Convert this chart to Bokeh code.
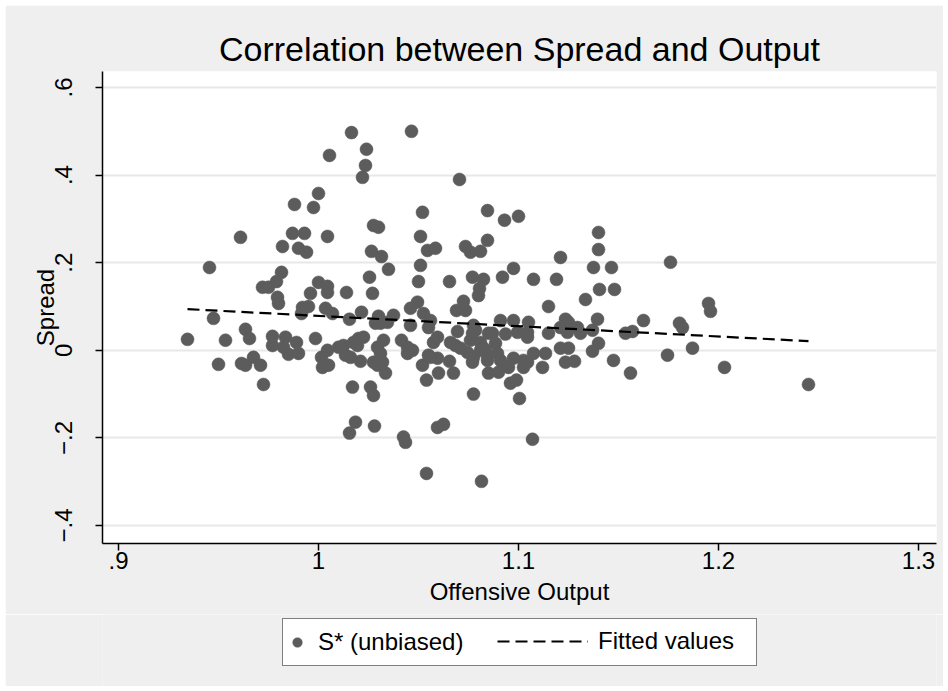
from bokeh.plotting import figure
from bokeh.layouts import column
from bokeh.models import FixedTicker, Legend, LegendItem, ColumnDataSource, Range1d
from bokeh.embed import file_html
from bokeh.resources import INLINE

# ---- data ----
output_x = [
    1.0165, 1.0465, 1.024, 1.0055, 1.0235, 1.022, 1.0705, 1.000, 0.988, 0.9975,
    1.052, 1.0845, 1.0275, 1.030, 0.961, 0.987, 0.993, 1.0045, 1.051, 1.0845,
    0.982, 0.990, 0.994, 1.0265, 1.0315, 1.0545, 1.0585, 1.0735, 1.076, 1.081,
    0.9455, 1.051, 1.035, 0.9815, 0.979, 0.972, 0.975, 1.000, 1.0045, 1.0045,
    0.996, 1.014, 1.0255, 1.027, 1.050, 1.0655, 1.077, 1.0825, 1.0805, 1.080,
    1.093, 1.100, 1.140, 1.140, 1.121, 1.176, 1.1375, 1.1465, 1.0975, 1.092,
    1.1075, 1.119, 1.1405, 1.148, 1.1335, 1.0495, 1.0725, 0.9795, 0.980, 0.9475,
    0.9345, 0.9535, 0.950, 0.9635, 0.9655, 0.9615, 0.9635, 0.9675, 0.971, 0.9725,
    0.977, 0.977, 0.9835, 0.9825, 0.985, 0.989, 0.990, 0.992, 0.995, 0.9915,
    0.9985, 1.0035, 1.007, 1.0155, 1.0215, 1.0015, 1.0045, 1.002, 1.005, 1.010,
    1.0125, 1.0135, 1.016, 1.0175, 1.020, 1.0225, 1.0195, 1.021, 1.017, 1.026,
    1.0275, 1.0185, 1.0155, 1.028, 1.030, 1.031, 1.0285, 1.0345, 1.0375, 1.0295,
    1.0325, 1.031, 1.0295, 1.0275, 1.032, 1.0335, 1.0415, 1.0445, 1.047, 1.0445,
    1.046, 1.0525, 1.056, 1.055, 1.046, 1.052, 1.055, 1.0595, 1.054, 1.060,
    1.0575, 1.0595, 1.0425, 1.0435, 1.0595, 1.0625, 1.054, 1.0815, 1.069, 1.0735,
    1.0695, 1.066, 1.0685, 1.071, 1.0745, 1.0775, 1.077, 1.081, 1.0835, 1.0845,
    1.0775, 1.077, 1.0655, 1.0675, 1.0775, 1.085, 1.085, 1.115, 1.195, 1.196,
    1.091, 1.0975, 1.105, 1.087, 1.0935, 1.0995, 1.1045, 1.1045, 1.115, 1.1235,
    1.125, 1.121, 1.1245, 1.1295, 1.131, 1.137, 1.1395, 1.1625, 1.1535, 1.157,
    1.1805, 1.182, 1.140, 1.137, 1.0825, 1.0845, 1.0885, 1.0895, 1.091, 1.0925,
    1.1075, 1.1135, 1.112, 1.0975, 1.1025, 1.1025, 1.095, 1.090, 1.121, 1.125,
    1.1235, 1.128, 1.1475, 1.156, 1.1745, 1.187, 1.203, 1.245, 1.096, 1.099,
    1.1005, 1.107, 1.056, 1.0785, 1.076, 1.081, 1.1045,
]
spread_y = [
    0.497, 0.500, 0.459, 0.445, 0.422, 0.395, 0.390, 0.358, 0.333, 0.326,
    0.315, 0.319, 0.285, 0.281, 0.258, 0.267, 0.267, 0.260, 0.260, 0.251,
    0.237, 0.233, 0.224, 0.226, 0.214, 0.228, 0.233, 0.237, 0.224, 0.226,
    0.189, 0.194, 0.185, 0.178, 0.157, 0.144, 0.144, 0.155, 0.146, 0.132,
    0.130, 0.132, 0.167, 0.130, 0.157, 0.157, 0.167, 0.162, 0.141, 0.125,
    0.297, 0.306, 0.269, 0.230, 0.212, 0.201, 0.189, 0.189, 0.187, 0.167,
    0.162, 0.162, 0.139, 0.139, 0.116, 0.110, 0.112, 0.121, 0.107, 0.073,
    0.025, 0.023, -0.032, 0.048, 0.027, -0.030, -0.034, -0.016, -0.034, -0.078,
    0.032, 0.011, 0.030, 0.007, -0.009, 0.018, -0.007, 0.098, 0.100, 0.084,
    0.027, 0.096, 0.084, 0.071, 0.087, -0.016, 0.000, -0.039, -0.034, 0.007,
    0.011, -0.011, -0.016, 0.018, 0.027, 0.030, 0.011, -0.025, -0.084, -0.084,
    -0.103, -0.164, -0.189, -0.173, 0.078, 0.062, 0.062, 0.064, 0.080, 0.007,
    0.023, -0.007, -0.034, -0.027, -0.027, -0.052, 0.023, 0.007, 0.000, -0.007,
    0.096, 0.084, 0.068, 0.052, 0.057, -0.034, -0.011, -0.018, -0.068, -0.052,
    0.018, 0.030, -0.198, -0.210, -0.176, -0.169, -0.281, -0.299, 0.091, 0.091,
    0.043, 0.018, 0.011, 0.005, -0.005, -0.016, -0.027, 0.018, 0.000, -0.023,
    0.057, 0.039, -0.025, -0.052, -0.100, -0.052, 0.039, 0.100, 0.107, 0.089,
    0.068, 0.068, 0.064, 0.039, 0.037, 0.041, 0.041, 0.030, 0.039, 0.071,
    0.064, 0.052, 0.041, 0.052, 0.039, 0.046, 0.071, 0.068, 0.039, 0.043,
    0.062, 0.052, 0.016, -0.002, 0.005, -0.011, 0.016, -0.007, -0.023, -0.034,
    -0.007, -0.007, -0.039, -0.018, -0.023, -0.039, -0.039, -0.050, 0.005, 0.005,
    -0.027, -0.025, -0.023, -0.052, -0.011, 0.005, -0.039, -0.078, -0.075, -0.068,
    -0.110, -0.203, -0.016, 0.046, 0.023, 0.000, -0.027,
]
fit_x = [0.9345, 1.245]
fit_y = [0.094, 0.021]

x_ticks = [0.9, 1.0, 1.1, 1.2, 1.3]
x_tick_labels = [".9", "1", "1.1", "1.2", "1.3"]
y_ticks = [-0.4, -0.2, 0, 0.2, 0.4, 0.6]
y_tick_labels = ["\u2212.4", "\u2212.2", "0", ".2", ".4", ".6"]

title_text = "Correlation between Spread and Output"
x_title = "Offensive Output"
y_title = "Spread"
scatter_label = "S* (unbiased)"
fit_label = "Fitted values"

FONT = "Liberation Sans"
GRAY_BG = "#efefef"
DOT = "#5c5c5c"
DOT_SIZE = 13
KEY_DOT_SIZE = 9
FIT_DASH = "12 6"
FIT_WIDTH = 2.2

# ---------------- main plot ----------------
p = figure(width=938, height=609, output_backend="svg", toolbar_location=None,
           x_range=Range1d(0.892, 1.309), y_range=Range1d(-0.441, 0.6365),
           min_border_left=97, min_border_right=7, min_border_top=66,
           min_border_bottom=71)
p.margin = (5, 5, 0, 5)
p.background_fill_color = "white"
p.border_fill_color = GRAY_BG
p.outline_line_color = None

p.title.text = title_text
p.title.text_font = FONT
p.title.text_font_size = "34px"
p.title.text_font_style = "normal"
p.title.text_color = "black"
p.title.align = "center"
p.title.standoff = 7

src = ColumnDataSource(data=dict(x=output_x, y=spread_y))
r_pts = p.scatter("x", "y", source=src, marker="circle", size=DOT_SIZE,
                  fill_color=DOT, line_color=DOT, line_width=0.5)
fit_src = ColumnDataSource(data=dict(x=fit_x, y=fit_y))
r_fit = p.line("x", "y", source=fit_src, line_color="black",
               line_width=FIT_WIDTH, line_dash=FIT_DASH)

for ax in (p.xaxis[0], p.yaxis[0]):
    ax.axis_line_color = "black"
    ax.axis_line_width = 1.5
    ax.major_tick_line_color = "black"
    ax.major_tick_line_width = 1.5
    ax.major_tick_in = 0
    ax.major_tick_out = 7
    ax.minor_tick_line_color = None
    ax.major_label_text_font = FONT
    ax.major_label_text_font_size = "24px"
    ax.major_label_text_color = "black"
    ax.axis_label_text_font = FONT
    ax.axis_label_text_font_size = "24px"
    ax.axis_label_text_font_style = "normal"
    ax.axis_label_text_color = "black"

p.xaxis.ticker = FixedTicker(ticks=x_ticks)
p.xaxis.major_label_overrides = dict(zip(x_ticks, x_tick_labels))
p.xaxis.axis_label = x_title
p.xaxis.major_label_standoff = 1
p.xaxis.axis_label_standoff = 6

p.yaxis.ticker = FixedTicker(ticks=y_ticks)
p.yaxis.major_label_overrides = dict(zip(y_ticks, y_tick_labels))
p.yaxis.major_label_orientation = "vertical"
p.yaxis.axis_label = y_title
p.yaxis.major_label_standoff = 23
p.yaxis.axis_label_standoff = -6

p.xgrid.visible = False
p.ygrid.ticker = FixedTicker(ticks=y_ticks)
p.ygrid.grid_line_color = "#e8e8e8"
p.ygrid.grid_line_width = 2

# ---------------- legend strip ----------------
# Its ranges lie away from the data, so the key renderers (same sources)
# draw nothing in the strip; they only supply the legend glyphs.
lg = figure(width=938, height=72, output_backend="svg", toolbar_location=None,
            x_axis_type=None, y_axis_type=None,
            x_range=Range1d(10, 11), y_range=Range1d(10, 11),
            min_border=0)
lg.margin = (0, 5, 5, 5)
lg.background_fill_color = GRAY_BG
lg.border_fill_color = GRAY_BG
lg.outline_line_color = None
lg.xgrid.visible = False
lg.ygrid.visible = False

k_pts = lg.scatter("x", "y", source=src, marker="circle", size=KEY_DOT_SIZE,
                   fill_color=DOT, line_color=DOT, line_width=0.5)
k_fit = lg.line("x", "y", source=fit_src, line_color="black",
                line_width=FIT_WIDTH, line_dash=FIT_DASH)

leg_box = Legend(items=[LegendItem(label=scatter_label, renderers=[k_pts], index=0)],
                 location=(180, 20), orientation="horizontal",
                 padding=2, margin=0, spacing=0,
                 glyph_width=24, glyph_height=42, label_standoff=9,
                 label_width=436, label_text_font=FONT,
                 label_text_font_size="24px", label_text_color="black",
                 border_line_color="black", border_line_width=1,
                 background_fill_color="white", background_fill_alpha=1)
leg_fit = Legend(items=[LegendItem(label=fit_label, renderers=[k_fit])],
                 location=(395, 24), orientation="horizontal",
                 padding=2, margin=0, spacing=0,
                 glyph_width=91, glyph_height=42, label_standoff=10,
                 label_text_font=FONT, label_text_font_size="24px",
                 label_text_color="black", border_line_color=None,
                 background_fill_alpha=0)
lg.add_layout(leg_box, "center")
lg.add_layout(leg_fit, "center")

layout = column(p, lg, spacing=0)
open("out.html", "w").write(file_html(layout, INLINE))
